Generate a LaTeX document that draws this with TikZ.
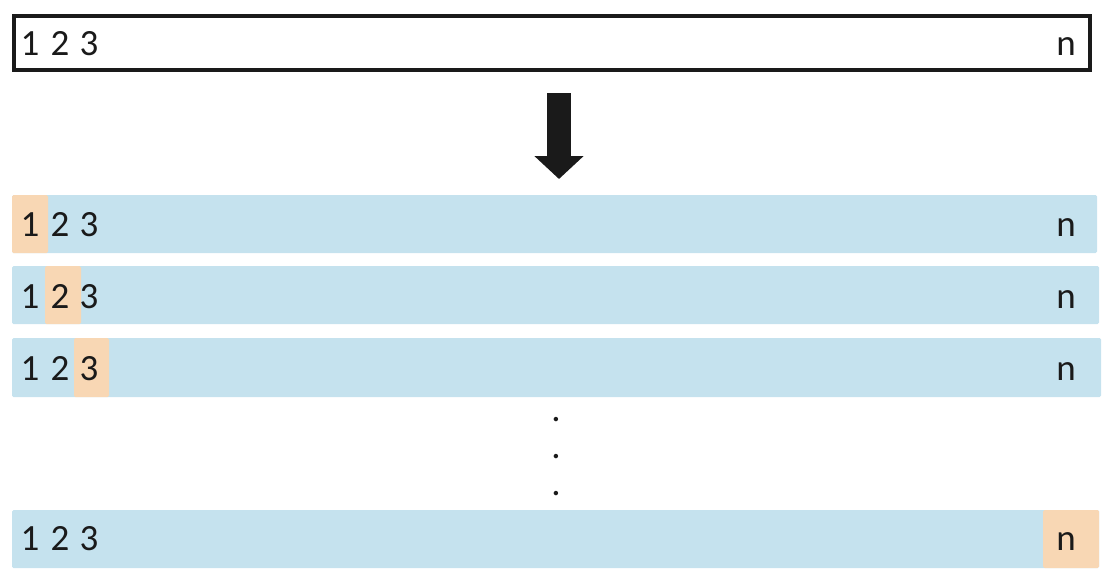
\documentclass[tikz,border=0pt]{standalone}
\usepackage{fontspec}
\setmainfont{Carlito}
\usetikzlibrary{arrows.meta, positioning}
\definecolor{barblue}{RGB}{197,226,238}
\definecolor{pickorange}{RGB}{248,215,180}
\definecolor{ink}{RGB}{26,26,26}

\begin{document}
\begin{tikzpicture}[
        x=1pt,
        y=-1pt,
        inner sep=0pt,
        outer sep=0pt
    ]
    \tikzset{
        seqbox/.style = {draw=ink, line width=4pt, minimum width=1076pt, minimum height=54pt},
        bar/.style = {fill=barblue, rounded corners=1.5pt, anchor=north west, minimum height=58pt},
        pick/.style = {fill=pickorange, rounded corners=1.5pt, anchor=north west, minimum height=58pt},
        num/.style = {anchor=base, text=ink, font=\fontsize{37}{44}\selectfont}
    }
    \useasboundingbox (0,0) rectangle (1110,586);

    % Input sequence
    \node[seqbox] (seq) at (552,43) {};
    \node[num] (s1) at (30,56) {1};
    \node[num] (s2) at (60,56) {2};
    \node[num] (s3) at (89,56) {3};
    \node[num] (sn) at (1066,56) {n};

    % Arrow down
    \coordinate (arrowtop) at (559,93);
    \coordinate (arrowtip) at (559,179);
    \draw[ink, line width=24pt, -{Triangle[width=48pt, length=23pt]}] (arrowtop) -- (arrowtip);

    % Bars, one element picked in each
    \node[bar, minimum width=1085pt] (bar1) at (12,195) {};
    \node[pick, minimum width=36pt] (pick1) at (12,195) {};
    \node[bar, minimum width=1087pt] (bar2) at (12,266) {};
    \node[pick, minimum width=36pt] (pick2) at (45,266) {};
    \node[bar, minimum width=1089pt, minimum height=59pt] (bar3) at (12,338) {};
    \node[pick, minimum width=35pt, minimum height=59pt] (pick3) at (74,338) {};
    \node[bar, minimum width=1087pt] (barn) at (12,510) {};
    \node[pick, minimum width=56pt] (pickn) at (1043,510) {};

    % Labels of the bars
    \node[num] (a1) at (30,236) {1};
    \node[num] (a2) at (60,236) {2};
    \node[num] (a3) at (89,236) {3};
    \node[num] (an) at (1066,236) {n};
    \node[num] (b1) at (30,308) {1};
    \node[num] (b2) at (60,308) {2};
    \node[num] (b3) at (89,308) {3};
    \node[num] (bn) at (1066,308) {n};
    \node[num] (c1) at (30,380) {1};
    \node[num] (c2) at (60,380) {2};
    \node[num] (c3) at (89,380) {3};
    \node[num] (cn) at (1066,380) {n};
    \node[num] (z1) at (30,550) {1};
    \node[num] (z2) at (60,550) {2};
    \node[num] (z3) at (89,550) {3};
    \node[num] (zn) at (1066,550) {n};

    % Dots
    \node[num] (dot1) at (556,421) {.};
    \node[num] (dot2) at (556,458) {.};
    \node[num] (dot3) at (556,495) {.};

\end{tikzpicture}
\end{document}
